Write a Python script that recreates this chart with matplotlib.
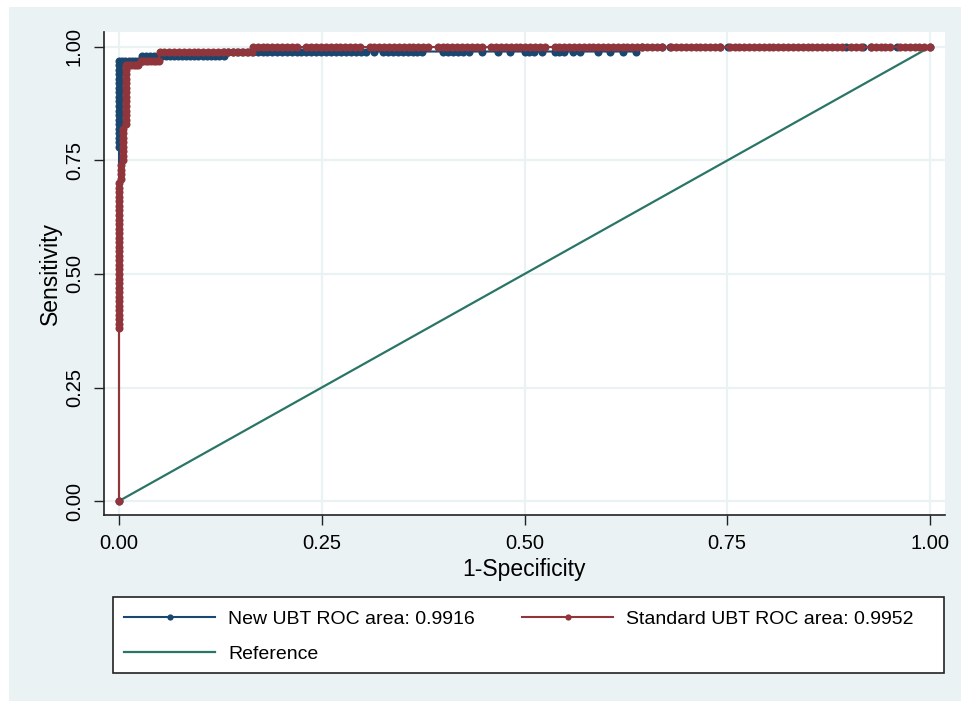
import matplotlib
matplotlib.use("Agg")
import matplotlib.pyplot as plt
from matplotlib.patches import Rectangle
from matplotlib.lines import Line2D

# ---------------- data ----------------
# New UBT ROC curve: false-positive rate (1-specificity) and sensitivity, by level
new_fpr_start = [0.0]
new_fpr_x0 = [0.0] * 20
new_sens_x0 = [0.78, 0.79, 0.80, 0.81, 0.82, 0.83, 0.84, 0.85, 0.86, 0.87,
               0.88, 0.89, 0.90, 0.91, 0.92, 0.93, 0.94, 0.95, 0.96, 0.97]
new_fpr_97 = [0.004, 0.008, 0.012, 0.016, 0.020, 0.024, 0.028]
new_fpr_98 = [0.028, 0.033, 0.038, 0.043, 0.048, 0.053, 0.058, 0.063, 0.068, 0.073,
              0.078, 0.083, 0.088, 0.093, 0.098, 0.103, 0.108, 0.113, 0.118, 0.123, 0.130]
new_fpr_99 = [0.130, 0.135, 0.141, 0.147, 0.153, 0.159, 0.165, 0.171, 0.177, 0.183, 0.189,
              0.195, 0.201, 0.207, 0.213, 0.219, 0.225, 0.231, 0.237, 0.243, 0.249, 0.255,
              0.262, 0.268, 0.274, 0.280, 0.286, 0.292, 0.298, 0.304, 0.314, 0.326, 0.332,
              0.338, 0.344, 0.350, 0.356, 0.362, 0.368, 0.374, 0.400, 0.406, 0.412, 0.418,
              0.424, 0.432, 0.448, 0.467, 0.482, 0.500, 0.506, 0.512, 0.521, 0.537, 0.542,
              0.549, 0.560, 0.568, 0.591, 0.606, 0.622, 0.638]
new_fpr_100 = [0.645, 0.669, 0.679, 0.741, 0.751, 0.896, 0.917, 0.927, 0.959, 1.0]

# Standard UBT ROC curve
std_fpr_start = [0.0]
std_fpr_x0 = [0.0] * 33
std_sens_x0 = [0.38, 0.39, 0.40, 0.41, 0.42, 0.43, 0.44, 0.45, 0.46, 0.47, 0.48,
               0.49, 0.50, 0.51, 0.52, 0.53, 0.54, 0.55, 0.56, 0.57, 0.58, 0.59,
               0.60, 0.61, 0.62, 0.63, 0.64, 0.65, 0.66, 0.67, 0.68, 0.69, 0.70]
std_fpr_x1 = [0.0025, 0.0025, 0.0025, 0.0025,
              0.005, 0.005, 0.005, 0.005, 0.005, 0.005, 0.005, 0.005,
              0.009, 0.009, 0.009, 0.009, 0.009, 0.009, 0.009, 0.009, 0.009,
              0.009, 0.009, 0.009, 0.009, 0.009]
std_sens_x1 = [0.71, 0.72, 0.73, 0.74,
               0.75, 0.76, 0.77, 0.78, 0.79, 0.80, 0.81, 0.82,
               0.83, 0.84, 0.85, 0.86, 0.87, 0.88, 0.89, 0.90, 0.91, 0.92, 0.93,
               0.94, 0.95, 0.96]
std_fpr_96 = [0.012, 0.015, 0.018, 0.021, 0.024]
std_fpr_97 = [0.027, 0.030, 0.033, 0.036, 0.040, 0.043, 0.046, 0.049]
std_fpr_99 = [0.050, 0.056, 0.062, 0.068, 0.074, 0.080, 0.086, 0.092, 0.098, 0.104,
              0.110, 0.116, 0.122, 0.128, 0.134, 0.140, 0.146, 0.152, 0.158, 0.164]
std_fpr_100 = [0.165, 0.171, 0.177, 0.183, 0.189, 0.195, 0.201, 0.207, 0.213, 0.219,
               0.231, 0.237, 0.243, 0.249, 0.255, 0.261, 0.267, 0.273, 0.279, 0.285,
               0.291, 0.297, 0.309, 0.315, 0.321, 0.327, 0.333, 0.339, 0.345, 0.351,
               0.357, 0.363, 0.369, 0.375, 0.381, 0.393, 0.399, 0.405, 0.411, 0.417,
               0.423, 0.429, 0.435, 0.441, 0.447, 0.459, 0.465, 0.471, 0.477, 0.483,
               0.489, 0.495, 0.501, 0.507, 0.513, 0.519, 0.525, 0.537, 0.543, 0.549,
               0.555, 0.561, 0.567, 0.573, 0.579, 0.585, 0.591, 0.597, 0.603, 0.609,
               0.615, 0.621, 0.627, 0.633, 0.639, 0.645, 0.651, 0.657, 0.663, 0.669,
               0.681, 0.687, 0.693, 0.699, 0.705, 0.711, 0.717, 0.723, 0.729, 0.735,
               0.741, 0.753, 0.759, 0.765, 0.771, 0.777, 0.783, 0.789, 0.795, 0.801,
               0.807, 0.813, 0.819, 0.825, 0.831, 0.837, 0.843, 0.849, 0.855, 0.861,
               0.867, 0.873, 0.879, 0.885, 0.891, 0.903, 0.909, 0.915, 0.927, 0.933,
               0.939, 0.945, 0.951, 0.963, 0.969, 0.975, 0.981, 0.987, 0.993, 1.0]

new_fpr = new_fpr_start + new_fpr_x0 + new_fpr_97 + new_fpr_98 + new_fpr_99 + new_fpr_100
new_sens = ([0.0] + new_sens_x0 + [0.97] * len(new_fpr_97) + [0.98] * len(new_fpr_98)
            + [0.99] * len(new_fpr_99) + [1.0] * len(new_fpr_100))
std_fpr = (std_fpr_start + std_fpr_x0 + std_fpr_x1 + std_fpr_96 + std_fpr_97
           + std_fpr_99 + std_fpr_100)
std_sens = ([0.0] + std_sens_x0 + std_sens_x1 + [0.96] * len(std_fpr_96)
            + [0.97] * len(std_fpr_97) + [0.99] * len(std_fpr_99)
            + [1.0] * len(std_fpr_100))

ref_x = [0.0, 1.0]
ref_y = [0.0, 1.0]

labels = ["New UBT ROC area: 0.9916", "Standard UBT ROC area: 0.9952", "Reference"]
ticks = [0.0, 0.25, 0.5, 0.75, 1.0]
tick_labels = ["0.00", "0.25", "0.50", "0.75", "1.00"]

# ---------------- style ----------------
BLUE = "#1A476F"
RED = "#90353B"
GREEN = "#2A7566"
BG = "#EAF2F3"
FONT = ["Liberation Sans", "DejaVu Sans"]
plt.rcParams["font.family"] = FONT

W, H = 961, 701
fig = plt.figure(figsize=(W / 100, H / 100), dpi=100, facecolor="white")
fig.patches.append(Rectangle((9 / W, 0), 1 - 9 / W, (H - 7) / H,
                             transform=fig.transFigure, facecolor=BG,
                             edgecolor="none", zorder=-10))

ax = fig.add_axes([104 / W, 1 - 515 / H, (945 - 104) / W, (515 - 32) / H])
ax.set_facecolor("white")

ax.plot(ref_x, ref_y, color=GREEN, lw=1.6, zorder=3)
ax.plot(new_fpr, new_sens, color=BLUE, lw=1.5, marker="o", ms=5.8,
        markeredgewidth=0, zorder=4)
ax.plot(std_fpr, std_sens, color=RED, lw=1.5, marker="o", ms=5.8,
        markeredgewidth=0, zorder=5)

ax.set_xlim(-0.0185, 1.0185)
ax.set_ylim(-0.0308, 1.033)
ax.set_xticks(ticks)
ax.set_xticklabels(tick_labels)
ax.set_yticks(ticks)
ax.set_yticklabels(tick_labels, rotation=90, va="center")
ax.grid(True, color=BG, lw=1.6, zorder=0)
ax.set_axisbelow(True)

for s in ["top", "right"]:
    ax.spines[s].set_visible(False)
for s in ["left", "bottom"]:
    ax.spines[s].set_color("#222222")
    ax.spines[s].set_linewidth(1.2)

ax.tick_params(axis="both", direction="out", length=7.5, width=1.0,
               color="#222222", labelsize=14.5, pad=6)
ax.tick_params(axis="y", pad=7)

ax.set_xlabel("1-Specificity", fontsize=16.5, labelpad=4)
ax.set_ylabel("Sensitivity", fontsize=16.5, labelpad=2)

# legend frame
fig.patches.append(Rectangle((113 / W, 1 - 673 / H), (944 - 113) / W, (673 - 597) / H,
                             transform=fig.transFigure, facecolor="white",
                             edgecolor="#222222", linewidth=1.2, zorder=1))

handles = [
    Line2D([0, 0.5, 1], [0, 0, 0], color=BLUE, lw=1.5, marker="o", ms=4.5,
           markeredgewidth=0, markevery=[1]),
    Line2D([0, 1], [0, 0], color=GREEN, lw=1.6),
    Line2D([0, 0.5, 1], [0, 0, 0], color=RED, lw=1.5, marker="o", ms=4.5,
           markeredgewidth=0, markevery=[1]),
]
leg = fig.legend(handles, [labels[0], labels[2], labels[1]], ncol=2,
                 loc="center left", bbox_to_anchor=(124 / W, 1 - 636.5 / H),
                 fontsize=14, frameon=False,
                 handlelength=4.68, handletextpad=0.67, borderpad=0,
                 labelspacing=0.88, borderaxespad=0, columnspacing=2.45)
leg.set_zorder(2)

fig.savefig("out.png", dpi=100, facecolor="white")
